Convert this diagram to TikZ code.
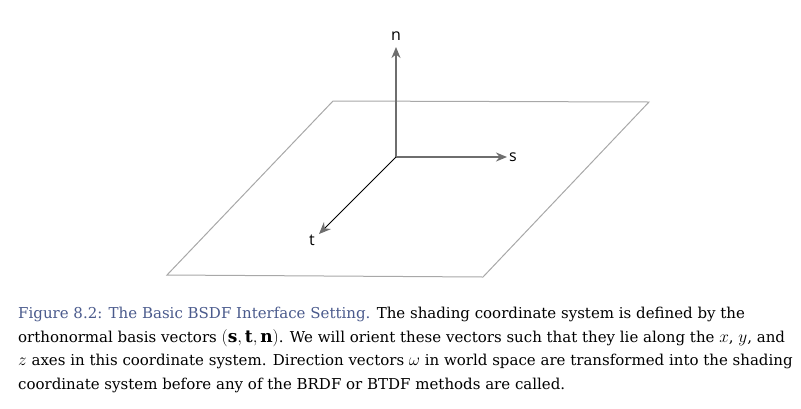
\documentclass[tikz,border=0pt]{standalone}
\usepackage{amsmath,amssymb}
\usepackage{fontspec}
\setmainfont{DejaVu Serif}
\newfontfamily\labelfont{Open Sans}
\DeclareMathSizes{15}{17}{12}{10}
\usepackage{tikz}
\usetikzlibrary{arrows.meta}
\definecolor{plane}{HTML}{A8A8A8}
\definecolor{axis}{HTML}{6E6E6E}
\definecolor{capblue}{HTML}{4A5A8C}
\tikzset{
  planeline/.style={draw=plane, line width=1pt},
  axisline/.style={draw=axis, line width=1.8pt, -{Stealth[length=11pt,width=9pt,inset=3.5pt,fill=axis]}},
  thinaxis/.style={draw=black, line width=0.9pt, -{Stealth[length=12pt,width=10pt,inset=4pt,fill=axis,color=axis]}},
  lab/.style={font=\labelfont\fontsize{16}{18}\selectfont, inner sep=1pt},
  caption/.style={font=\fontsize{15}{23.5}\selectfont, align=left, inner sep=0pt, anchor=north west},
}
\begin{document}
\begin{tikzpicture}[x=1pt,y=-1pt]
  \useasboundingbox (0,0) rectangle (801,408);
  % the surface
  \coordinate (PA) at (333,101);
  \coordinate (PB) at (649,102);
  \coordinate (PC) at (483,277);
  \coordinate (PD) at (167,275);
  \draw[planeline] (PA) -- (PB) -- (PC) -- (PD) -- cycle;

  % shading frame
  \coordinate (O) at (396,157);
  \coordinate (Sx) at (507,157);
  \coordinate (Ty) at (319,234);
  \coordinate (Nz) at (396,47);
  \draw[axisline] (O) -- (Nz);
  \draw[axisline] (O) -- (Sx);
  \draw[thinaxis] (O) -- (Ty);
  \node[lab,anchor=south] (nlab) at (396,42) {n};
  \node[lab,anchor=west] (slab) at (508,157) {s};
  \node[lab] (tlab) at (312,240) {t};

  % caption
  \node[caption] (cap) at (18,307) {\textcolor{capblue}{Figure 8.2: The Basic BSDF Interface Setting.} The shading coordinate system is defined by the\\
    orthonormal basis vectors $(\mathbf{s},\mathbf{t},\mathbf{n})$. We will orient these vectors such that they lie along the $x$, $y$, and\\
    $z$ axes in this coordinate system. Direction vectors $\omega$ in world space are transformed into the shading\\
    coordinate system before any of the BRDF or BTDF methods are called.};
\end{tikzpicture}
\end{document}
